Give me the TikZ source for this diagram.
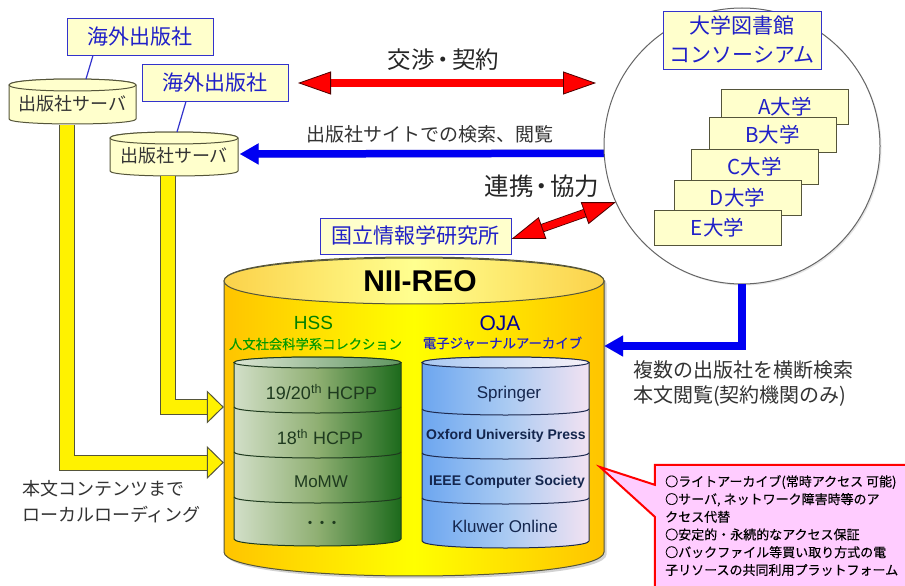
\documentclass[tikz,border=0pt]{standalone}
\usepackage{fontspec}
\setmainfont{Liberation Sans}
\newfontfamily\cjk{Noto Sans CJK JP}
\newfontfamily\cjkheavy[FakeBold=0.25]{Noto Sans CJK JP}
\usetikzlibrary{arrows.meta,shadows,calc}
\newcommand\szp[2][]{\fontsize{#2}{#2}\selectfont}
\definecolor{boxfill}{HTML}{FFFFCC}
\definecolor{boxblue}{HTML}{3333CC}
\definecolor{txtblue}{HTML}{2020C8}
\definecolor{txtgrey}{HTML}{333333}
\definecolor{edge}{HTML}{55553A}
\definecolor{reoedge}{HTML}{FFC400}
\definecolor{reotopl}{HTML}{FBD24A}
\definecolor{reotopm}{HTML}{FFFF90}
\definecolor{grl}{HTML}{D2DFC8}
\definecolor{grm}{HTML}{8FAF72}
\definecolor{grr}{HTML}{1C6A1C}
\definecolor{grtl}{HTML}{DCE6D4}
\definecolor{grtr}{HTML}{5F9560}
\definecolor{grline}{HTML}{1E3A1E}
\definecolor{bll}{HTML}{6CA6F0}
\definecolor{blm}{HTML}{A9CAF2}
\definecolor{blr}{HTML}{F2E2F2}
\definecolor{bltl}{HTML}{A8C8F2}
\definecolor{bltr}{HTML}{F8F2F8}
\definecolor{blline}{HTML}{1E2A50}
\definecolor{notefill}{HTML}{FFCCFF}
\definecolor{gtext}{HTML}{1E3A1E}
\definecolor{btext}{HTML}{14264E}
\tikzset{
  labelbox/.style={draw=boxblue,fill=boxfill,line width=.9pt,text=txtblue,inner sep=0pt,align=center,font=\cjk\szp{21}},
  unibox/.style={draw=edge,fill=boxfill,line width=1pt,text=txtblue,inner sep=0pt,minimum width=127pt,minimum height=35pt,font=\cjk\szp{20.5}},
  plain/.style={inner sep=0pt,text=txtgrey,font=\cjk\szp{19},align=left},
  srvtext/.style={inner sep=0pt,text=txtgrey,minimum width=127pt,minimum height=44pt,text depth=0pt,font=\cjk\szp{18}},
  link/.style={draw=boxblue,line width=1.2pt},
  fatyellow/.style={draw=edge,line width=1pt,double=yellow,double distance=14pt,line join=miter,
    -{Triangle[length=17pt,width=33pt,fill=yellow,line width=1pt]}},
  fatred/.style={draw=black!70!red,line width=.8pt,double=red,double distance=#1,
    {Triangle[length=33pt,width=23pt,fill=red,line width=.8pt]}-{Triangle[length=33pt,width=23pt,fill=red,line width=.8pt]}},
  fatblue/.style={draw=blue!95!black,line width=7.5pt,-{Triangle[length=19pt,width=20pt]}},
  fatshadow/.style={draw=black,opacity=.22,line width=7.5pt,-{Triangle[length=19pt,width=20pt]}},
  cyltext/.style={inner sep=0pt,font=\szp{17}},
  anchorbox/.style={inner sep=0pt,draw=none},
}
% #1 x1, #2 x2, #3 y top, #4 y bottom, #5 top ry, #6 bottom ry, #7 options
\newcommand\cylbody[7]{\shade[#7] (#1,#3) .. controls (#1,#3-1.333*#5) and (#2,#3-1.333*#5) .. (#2,#3) -- (#2,#4) .. controls (#2,#4+1.333*#6) and (#1,#4+1.333*#6) .. (#1,#4) -- cycle;}
\newcommand\cyltop[5]{\shade[#5] (#1,#3) .. controls (#1,#3-1.333*#4) and (#2,#3-1.333*#4) .. (#2,#3) .. controls (#2,#3+1.333*#4) and (#1,#3+1.333*#4) .. (#1,#3) -- cycle;}
\newcommand\cylband[4]{\draw[#4] (#1,#3) .. controls (#1,#3+8) and (#2,#3+8) .. (#2,#3);}
\begin{document}
\begin{tikzpicture}[x=1pt,y=-1pt]
\useasboundingbox (0,0) rectangle (905,586);
\clip (0,0) rectangle (905,586);
\fill[white] (0,0) rectangle (905,586);

% anchors for large shapes
\node[anchorbox,minimum width=380pt,minimum height=320pt] (reo) at (414,416) {};
\node[anchorbox,circle,minimum size=276pt] (circ) at (742,146) {};

% server cylinders
\cylbody{9}{136}{85}{119}{6}{5}{left color=boxfill,right color=boxfill,draw=edge,line width=1pt}
\cyltop{9}{136}{85}{6}{left color=boxfill,right color=boxfill,draw=edge,line width=1pt}
\node[srvtext] (srv1) at (72.5,103) {出版社サーバ};
\cylbody{110}{238}{138}{171}{6}{5}{left color=boxfill,right color=boxfill,draw=edge,line width=1pt}
\cyltop{110}{238}{138}{6}{left color=boxfill,right color=boxfill,draw=edge,line width=1pt}
\node[srvtext] (srv2) at (174,155) {出版社サーバ};

% publisher boxes
\node[labelbox,minimum width=146pt,minimum height=37pt] (pub1) at (140,36.5) {海外出版社};
\node[labelbox,minimum width=146pt,minimum height=37pt] (pub2) at (215,82.5) {海外出版社};
\draw[link] ([xshift=-47pt]pub1.south) -- (86,79);
\draw[link] ([xshift=-29pt]pub2.south) -- (177,132);

% main cylinder
\cylbody{224}{604}{281}{552}{24}{24}{left color=reoedge,right color=reoedge,middle color=yellow,draw=edge,line width=1pt,drop shadow={shadow xshift=2.5pt,shadow yshift=-2.5pt,opacity=.35}}
\cyltop{224}{604}{281}{23}{left color=reotopl,right color=reotopl,middle color=reotopm,draw=edge,line width=1pt}
\node[inner sep=0pt,font=\bfseries\szp{30}] (title) at (420,281) {NII-REO};

% yellow connectors
\coordinate (in2) at ([yshift=9pt]reo.west);
\coordinate (in1) at ([yshift=-46.5pt]reo.west);
\draw[fatyellow] ([xshift=-6pt,yshift=-22pt]srv1.center) |- (in1);
\draw[fatyellow] ([xshift=-6pt,yshift=-21pt]srv2.center) |- (in2);

% blue connectors
\draw[fatshadow,xshift=2pt,yshift=-2pt] ([yshift=-7pt]circ.center) -- ([xshift=2pt,yshift=1pt]srv2.east);
\draw[fatblue] ([yshift=-7pt]circ.center) -- ([xshift=2pt,yshift=1pt]srv2.east);
\node[circle,draw=black!60,fill=white,line width=1pt,minimum size=276pt,inner sep=0pt,drop shadow={shadow xshift=1.5pt,shadow yshift=-1.5pt,opacity=.2}] (circ1) at (742,146) {};
\draw[fatshadow,xshift=2pt,yshift=-2pt] (circ.south) |- ([yshift=70pt]reo.east);
\draw[fatblue] (circ.south) |- ([yshift=70pt]reo.east);

% universities
\node[unibox] (ua) at (785,106.5) {A大学};
\node[unibox] (ub) at (772.5,135) {B大学};
\node[unibox] (uc) at (754.5,166.5) {C大学};
\node[unibox] (ud) at (737.5,197.5) {D大学};
\node[unibox] (ue) at (717.5,227.5) {E大学};
\node[labelbox,minimum width=158pt,minimum height=58pt,font=\cjk\fontsize{21}{29}\selectfont] (cons) at (742,40) {大学図書館\\コンソーシアム};

% institute and red connectors
\node[labelbox,minimum width=191pt,minimum height=36pt] (inst) at (415.5,236) {国立情報学研究所};
\coordinate (nego1) at (298,83);
\coordinate (nego2) at (596,83);
\draw[fatred=7pt] (nego1) -- (nego2);
\draw[fatred=7pt] ([yshift=-3pt]inst.east) -- (circ.204.5);

% green collection
\cylbody{234}{401}{363}{539}{6}{7}{left color=grl,right color=grr,middle color=grm,draw=grline,line width=1pt}
\cylband{234}{401}{407}{draw=grline,line width=1pt}
\cylband{234}{401}{452}{draw=grline,line width=1pt}
\cylband{234}{401}{497}{draw=grline,line width=1pt}
\cyltop{234}{401}{362.5}{5.5}{left color=grtl,right color=grtr,draw=grline,line width=1pt}

% blue collection
\cylbody{422}{589}{363}{541}{6}{7}{left color=bll,right color=blr,middle color=blm,draw=blline,line width=1pt}
\cylband{422}{589}{409}{draw=blline,line width=1pt}
\cylband{422}{589}{453}{draw=blline,line width=1pt}
\cylband{422}{589}{498}{draw=blline,line width=1pt}
\cyltop{422}{589}{362.5}{5.5}{left color=bltl,right color=bltr,draw=blline,line width=1pt}

% collection labels
\node[inner sep=0pt,text=green!50!black,font=\szp{19}] (hss) at (313.5,323) {HSS};
\node[inner sep=0pt,text=green!60!black,font=\cjkheavy\szp{13.3}] (hssj) at (315.5,344) {人文社会科学系コレクション};
\node[inner sep=0pt,text=blue!60!black,font=\szp{21}] (oja) at (500,323) {OJA};
\node[inner sep=0pt,text=txtblue,font=\cjkheavy\szp{13.4}] (ojaj) at (502.5,343) {電子ジャーナルアーカイブ};
\node[cyltext,text=gtext,font=\szp{18}] (h1) at (321.5,392) {19/20\textsuperscript{th} HCPP};
\node[cyltext,text=gtext,font=\szp{18}] (h2) at (320,437) {18\textsuperscript{th} HCPP};
\node[cyltext,text=gtext] (h3) at (321,482) {MoMW};
\node[cyltext,text=gtext,font=\cjk\bfseries\szp{12}] (h4) at (322,524) {・・・};
\node[cyltext,text=btext] (o1) at (509,394) {Springer};
\node[cyltext,text=btext,font=\bfseries\szp{14}] (o2) at (506,436) {Oxford University Press};
\node[cyltext,text=btext,font=\bfseries\szp{14}] (o3) at (507,482) {IEEE Computer Society};
\node[cyltext,text=btext] (o4) at (505,526) {Kluwer Online};

% free texts
\node[plain,text=black!85,font=\cjk\szp{23.5}] (t1) at (443.5,60) {交渉\kern-3pt・\kern-3pt 契約};
\node[plain] (t2) at (429.5,134) {出版社サイトでの検索、閲覧};
\node[plain,text=black!85,font=\cjk\szp{24.5}] (t3) at (542,186) {連携\kern-4pt・\kern-4pt 協力};
\node[plain,anchor=north west,font=\cjk\fontsize{20}{25}\selectfont] (t4) at (633,360) {複数の出版社を横断検索\\本文閲覧(契約機関のみ)};
\node[plain,anchor=north west,font=\cjk\fontsize{18}{26}\selectfont] (t5) at (22,480) {本文コンテンツまで\\ローカルローディング};

% callout
\node[anchorbox,minimum width=260pt,minimum height=130pt] (note) at (785,530) {};
\coordinate (ptr) at (600,467);
\draw[red,line width=2pt,fill=notefill,line join=miter]
  (note.north west) -- ([yshift=-20pt]note.north west) -- (ptr) -- ([yshift=-52pt]note.north west) -- (note.south west) -- (note.south east) -- (note.north east) -- cycle;
\node[inner sep=0pt,anchor=north west,align=left,text=black,font=\cjkheavy\fontsize{13}{17.7}\selectfont] (notetext) at (665,475) {○ライトアーカイブ(常時アクセス 可能)\\○サーバ, ネットワーク障害時等のア\\クセス代替\\○安定的・永続的なアクセス保証\\○バックファイル等買い取り方式の電\\子リソースの共同利用プラットフォーム};
\end{tikzpicture}
\end{document}
